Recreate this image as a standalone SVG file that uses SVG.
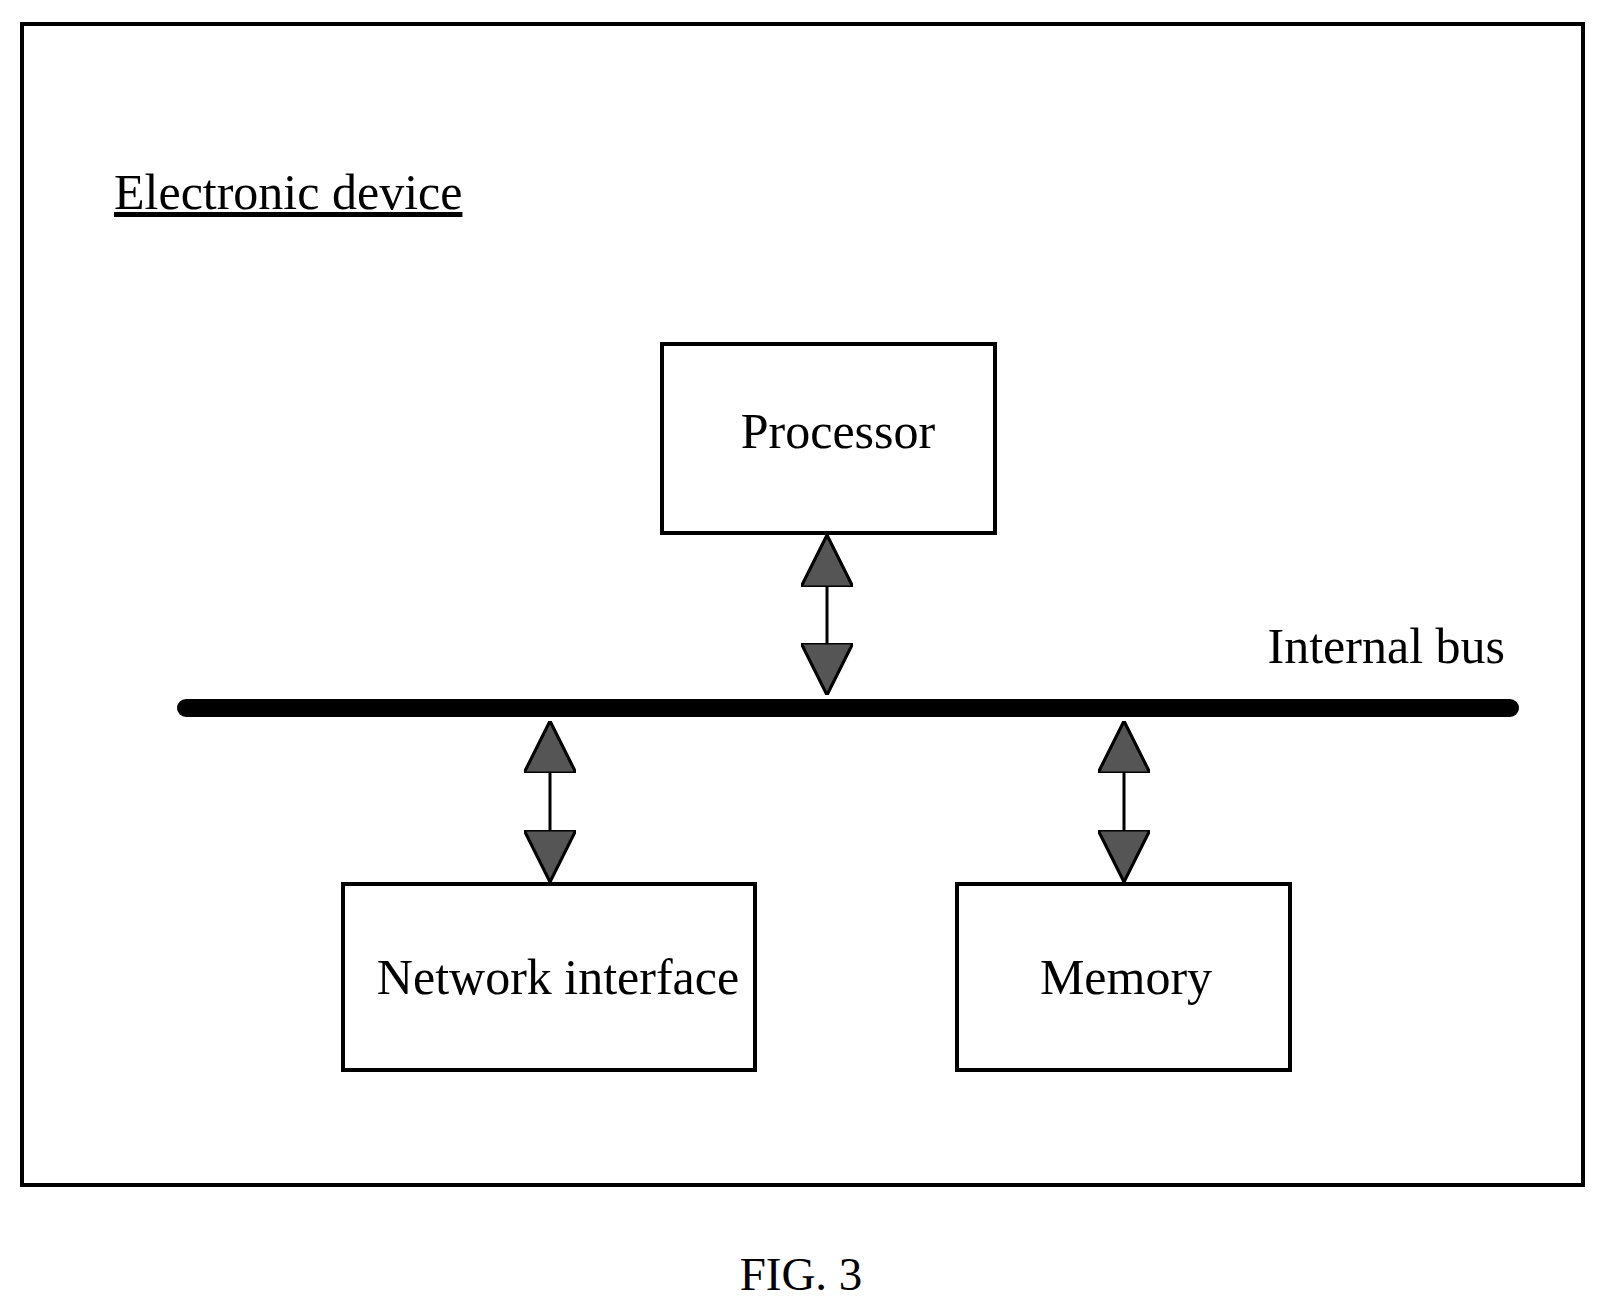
<svg xmlns="http://www.w3.org/2000/svg" width="1619" height="1308" viewBox="0 0 1619 1308">
<style>
.b{fill:none;stroke:#000;stroke-width:4}
.t{font-family:"Liberation Serif",serif;font-size:50px;fill:#000}
.c{stroke:#000;stroke-width:3}
</style>
<defs>
<marker id="ah" viewBox="0 0 10 10" refX="10" refY="5" markerWidth="52" markerHeight="52" markerUnits="userSpaceOnUse" orient="auto-start-reverse"><path d="M0,0 L10,5 L0,10 Z" fill="#555" stroke="#000" stroke-width="0.6"/></marker>
</defs>
<rect width="1619" height="1308" fill="#fff"/>
<g id="device"><rect class="b" x="22" y="24" width="1561" height="1161" stroke-width="6"/>
<text class="t" x="114" y="209" text-decoration="underline">Electronic device</text></g>
<g id="processor"><rect class="b" x="662" y="344" width="333" height="189"/><text class="t" x="838" y="448" text-anchor="middle">Processor</text></g>
<g id="bus"><line x1="186" y1="708" x2="1510" y2="708" stroke="#000" stroke-width="18" stroke-linecap="round"/><text class="t" x="1505" y="663" text-anchor="end">Internal bus</text></g>
<g id="network"><rect class="b" x="343" y="884" width="412" height="186"/><text class="t" x="558" y="994" text-anchor="middle">Network interface</text></g>
<g id="memory"><rect class="b" x="957" y="884" width="333" height="186"/><text class="t" x="1126" y="994" text-anchor="middle">Memory</text></g>
<g id="connectors">
<line class="c" x1="827" y1="535" x2="827" y2="695" marker-start="url(#ah)" marker-end="url(#ah)"/>
<line class="c" x1="550" y1="721" x2="550" y2="882" marker-start="url(#ah)" marker-end="url(#ah)"/>
<line class="c" x1="1124" y1="721" x2="1124" y2="882" marker-start="url(#ah)" marker-end="url(#ah)"/>
</g>
<text style="font-family:'Liberation Serif',serif;font-size:47px" x="801" y="1290" text-anchor="middle">FIG. 3</text>
</svg>
